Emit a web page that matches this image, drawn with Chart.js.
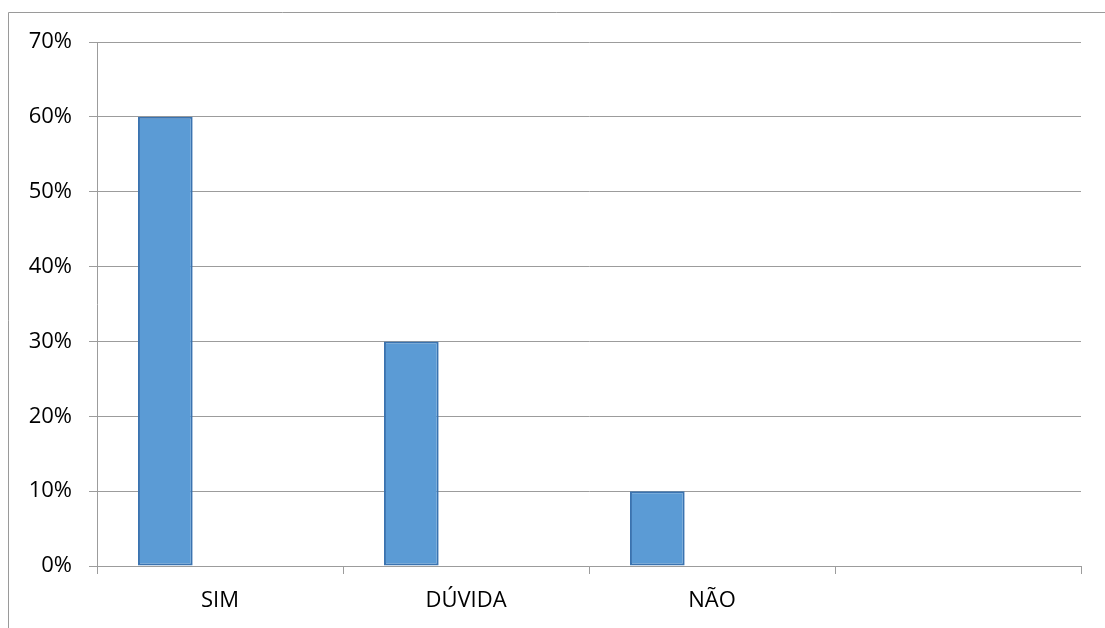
<!DOCTYPE html>
<html>
<head>
<meta charset="utf-8">
<script src="https://cdn.jsdelivr.net/npm/chart.js@4/dist/chart.umd.min.js"></script>
<style>
  html, body { margin: 0; padding: 0; background: #fff; }
  #wrap { width: 1105px; height: 628px; }
</style>
</head>
<body>
<div id="wrap"><canvas id="c" width="1105" height="628"></canvas></div>
<script>
// Categories on the horizontal axis (the fourth slot is left blank)
const categories = ['SIM', 'DÚVIDA', 'NÃO', ''];
// Share of answers per category
const serie1 = [0.60, 0.30, 0.10, null];
// Empty companion series that keep the bar slots in each category
const serie2 = [null, null, null, null];
const serie3 = [null, null, null, null];
// Vertical axis range and step
const yMin = 0;
const yMax = 0.70;
const yStep = 0.10;

const gridGray = '#9C9C9C';
const tickFont = { family: "'Open Sans', 'Noto Sans', sans-serif", size: 22 };

// Thin frame along the left and top edges of the chart box
const framePlugin = {
  id: 'frame',
  beforeDraw(chart) {
    const ctx = chart.ctx;
    ctx.save();
    ctx.fillStyle = '#ffffff';
    ctx.fillRect(0, 0, chart.width, chart.height);
    ctx.strokeStyle = '#9A9A9A';
    ctx.lineWidth = 1;
    ctx.beginPath();
    ctx.moveTo(8.5, chart.height);
    ctx.lineTo(8.5, 12.5);
    ctx.lineTo(chart.width, 12.5);
    ctx.stroke();
    ctx.restore();
  }
};

new Chart(document.getElementById('c'), {
  type: 'bar',
  data: {
    labels: categories,
    datasets: [
      { label: 'Série 1', data: serie1, backgroundColor: '#5B9BD5', borderColor: '#3A73B0', borderWidth: 2, borderSkipped: false },
      { label: 'Série 2', data: serie2, backgroundColor: '#ED7D31' },
      { label: 'Série 3', data: serie3, backgroundColor: '#A5A5A5' }
    ]
  },
  options: {
    responsive: false,
    animation: false,
    devicePixelRatio: 1,
    categoryPercentage: 0.667,
    barPercentage: 1.0,
    layout: { padding: { top: 42, right: 24, bottom: 0, left: 20 } },
    plugins: {
      legend: { display: false },
      tooltip: { enabled: false }
    },
    scales: {
      x: {
        offset: true,
        grid: {
          offset: true,
          drawOnChartArea: false,
          drawTicks: true,
          tickLength: 8,
          color: gridGray,
          lineWidth: 1
        },
        border: { display: true, color: gridGray, width: 1 },
        ticks: { color: '#000', font: tickFont, padding: 14, maxRotation: 0, autoSkip: false },
        afterFit(scale) { scale.height = 62; }
      },
      y: {
        min: yMin,
        max: yMax,
        grid: {
          color: gridGray,
          lineWidth: 1,
          tickLength: 8,
          drawTicks: true
        },
        border: { display: true, color: gridGray, width: 1 },
        ticks: {
          stepSize: yStep,
          color: '#000',
          font: tickFont,
          padding: 17,
          callback: (v) => Math.round(v * 100) + '%'
        },
        afterFit(scale) { scale.width = 77; }
      }
    }
  },
  plugins: [framePlugin]
});
</script>
</body>
</html>
